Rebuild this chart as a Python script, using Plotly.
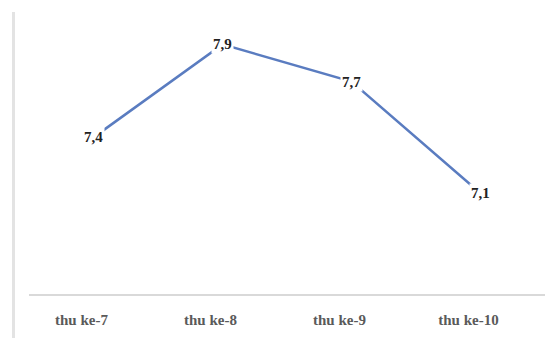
import plotly.graph_objects as go

categories = ["thu ke-7", "thu ke-8", "thu ke-9", "thu ke-10"]
values = [7.4, 7.9, 7.7, 7.1]
value_labels = ["7,4", "7,9", "7,7", "7,1"]

fig = go.Figure()
fig.add_trace(go.Scatter(
    x=categories, y=values, mode="lines",
    line=dict(color="#5a7cc0", width=2.5),
    hoverinfo="skip", showlegend=False,
))

annotations = []
for c, v, t in zip(categories, values, value_labels):
    annotations.append(dict(
        x=c, y=v, xref="x", yref="y", text="<b>" + t + "</b>",
        showarrow=False, bgcolor="white", borderpad=1,
        font=dict(family="Liberation Serif", size=15, color="#222222"),
    ))

fig.update_layout(
    width=555, height=338,
    margin=dict(l=29, r=10, t=12, b=38),
    paper_bgcolor="white", plot_bgcolor="white",
    annotations=annotations,
    xaxis=dict(
        type="category", range=[-0.5, 3.5],
        showline=True, linecolor="#d9d9d9", linewidth=1.5,
        showgrid=False, zeroline=False, ticks="",
        tickfont=dict(family="Liberation Serif", size=15, color="#5a5a5a", weight="bold"),
        ticklabelstandoff=11, ticklabelshift=-12,
    ),
    yaxis=dict(
        range=[6.558, 8.074], visible=False, showgrid=False, zeroline=False,
    ),
    shapes=[
        dict(type="line", xref="paper", yref="paper", x0=-0.03, x1=-0.03, y0=1.0, y1=-0.2,
             line=dict(color="#e3e3e3", width=3)),
    ],
)

fig.write_html("out.html")
